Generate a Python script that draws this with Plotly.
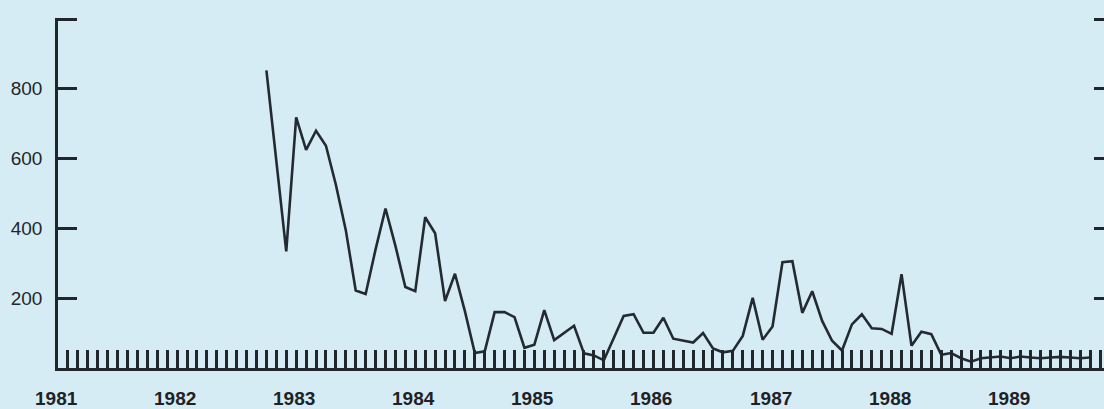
import plotly.graph_objects as go

# Month index 0 = January 1981 (left end of the axis)
start_month = 21
values = [
    853, 594, 334, 718, 625, 680, 637, 525, 395, 222,
    212, 340, 457, 350, 232, 220, 432, 386, 192, 270,
    163, 43, 48, 160, 160, 146, 58, 67, 166, 80,
    100, 121, 42, 36, 22, 88, 149, 154, 101, 101,
    144, 84, 78, 73, 100, 56, 45, 49, 92, 201,
    81, 119, 303, 306, 158, 220, 135, 78, 50, 125,
    154, 114, 112, 98, 269, 64, 104, 97, 38, 43,
    28, 18, 28, 30, 33, 28, 33, 30, 28, 30,
    32, 30, 28, 30,
]
years = ["1981", "1982", "1983", "1984", "1985", "1986", "1987", "1988", "1989"]
y_tick_values = [200, 400, 600, 800, 1000]
y_tick_labels = ["200", "400", "600", "800", ""]

months = list(range(start_month, start_month + len(values)))

ink = "#20262c"
bg = "#d6ecf4"
font_family = "Liberation Sans, Arial, Helvetica, sans-serif"
x_range = [0, 105.4]
y_range = [0, 1003]

fig = go.Figure()
fig.add_trace(go.Scatter(
    x=months, y=values, mode="lines",
    line=dict(color="#242a31", width=2.6),
    showlegend=False, hoverinfo="skip",
))
# invisible trace to anchor the right-hand tick axis
fig.add_trace(go.Scatter(
    x=[months[0]], y=[values[0]], yaxis="y2", mode="markers",
    marker=dict(opacity=0), showlegend=False, hoverinfo="skip",
))

annotations = []
for i, yr in enumerate(years):
    month_pos = 12 * i - 0.2
    annotations.append(dict(
        x=(month_pos - x_range[0]) / (x_range[1] - x_range[0]), y=-0.088,
        xref="paper", yref="paper",
        text=yr, showarrow=False, xanchor="center", yanchor="middle",
        font=dict(family=font_family, size=19, color="#1e2226", weight="bold"),
    ))

fig.update_layout(
    width=1104, height=409,
    margin=dict(l=58, r=0, t=18, b=41, autoexpand=False),
    paper_bgcolor=bg, plot_bgcolor=bg,
    xaxis=dict(
        range=x_range,
        showline=True, linecolor=ink, linewidth=2.6,
        showgrid=False, zeroline=False,
        tickmode="linear", tick0=0, dtick=12,
        ticks="inside", ticklen=18, tickwidth=2.6, tickcolor=ink,
        showticklabels=False,
        minor=dict(ticks="inside", ticklen=18, tickwidth=2.6, tickcolor=ink,
                   tick0=0, dtick=1, showgrid=False),
    ),
    yaxis=dict(
        range=y_range,
        tickmode="array", tickvals=y_tick_values, ticktext=y_tick_labels,
        ticks="inside", ticklen=19, tickwidth=2.6, tickcolor=ink,
        showline=True, linecolor=ink, linewidth=2.6,
        showgrid=False, zeroline=False,
        tickfont=dict(family=font_family, size=19, color="#22272c"),
        ticklabelstandoff=9,
    ),
    yaxis2=dict(
        range=y_range, overlaying="y", side="right",
        tickmode="array", tickvals=y_tick_values,
        ticks="inside", ticklen=10, tickwidth=2.6, tickcolor=ink,
        showticklabels=False, showline=False, showgrid=False, zeroline=False,
    ),
    annotations=annotations,
)

fig.write_html(
    "out.html",
    config={"displayModeBar": False},
    post_script=(
        "document.body.style.margin='0';"
        "document.body.style.padding='0';"
        "document.body.style.background='" + bg + "';"
        "document.body.style.overflow='hidden';"
    ),
)
